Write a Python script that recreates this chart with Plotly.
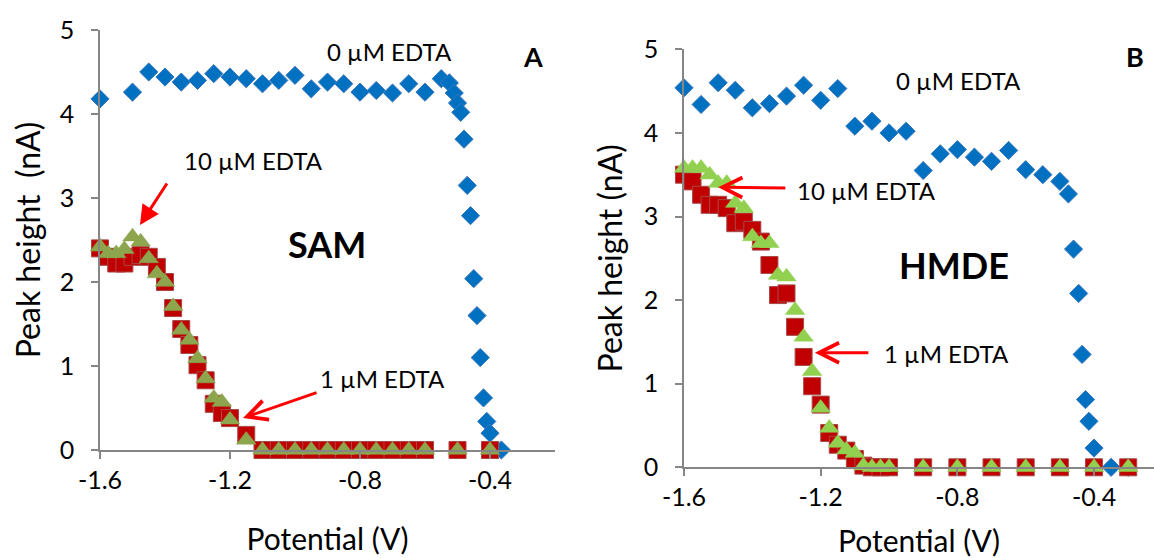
import plotly.graph_objects as go

W, H = 1154, 558

# ---------------- Panel A (SAM) ----------------
a_blue_x = [-1.6, -1.5, -1.45, -1.4, -1.35, -1.3, -1.25, -1.2, -1.15, -1.1, -1.05, -1.0,
            -0.95, -0.9, -0.85, -0.8, -0.75, -0.7, -0.65, -0.6, -0.55,
            -0.525, -0.51, -0.5, -0.49, -0.48, -0.47, -0.46, -0.45, -0.44, -0.43,
            -0.42, -0.41, -0.4, -0.365]
a_blue_y = [4.18, 4.26, 4.50, 4.44, 4.38, 4.40, 4.48, 4.44, 4.42, 4.36, 4.40, 4.46,
            4.30, 4.38, 4.36, 4.26, 4.28, 4.25, 4.36, 4.26, 4.42,
            4.37, 4.25, 4.13, 4.02, 3.70, 3.15, 2.79, 2.04, 1.60, 1.10,
            0.62, 0.34, 0.20, 0.0]

a_x = [-1.6, -1.575, -1.55, -1.525, -1.5, -1.475, -1.45, -1.425, -1.4, -1.375, -1.35,
       -1.325, -1.3, -1.275, -1.25, -1.225, -1.2, -1.15,
       -1.1, -1.05, -1.0, -0.95, -0.9, -0.85, -0.8, -0.75, -0.7, -0.65, -0.6, -0.5, -0.4]
a_1uM = [2.40, 2.30, 2.22, 2.22, 2.30, 2.32, 2.30, 2.18, 2.00, 1.69, 1.44,
         1.25, 1.01, 0.83, 0.55, 0.44, 0.38, 0.18,
         0, 0, 0, 0, 0, 0, 0, 0, 0, 0, 0, 0, 0]
a_10uM = [2.42, 2.34, 2.34, 2.39, 2.54, 2.48, 2.28, 2.10, 2.00, 1.71, 1.43,
          1.31, 1.09, 0.85, 0.62, 0.57, 0.36, 0.12,
          0, 0, 0, 0, 0, 0, 0, 0, 0, 0, 0, 0, 0]

# ---------------- Panel B (HMDE) ----------------
b_blue_x = [-1.6, -1.55, -1.5, -1.45, -1.4, -1.35, -1.3, -1.25, -1.2, -1.15, -1.1, -1.05,
            -1.0, -0.95, -0.9, -0.85, -0.8, -0.75, -0.7, -0.65, -0.6, -0.55, -0.5,
            -0.475, -0.46, -0.445, -0.435, -0.425, -0.415, -0.4, -0.35, -0.3]
b_blue_y = [4.54, 4.34, 4.60, 4.51, 4.30, 4.35, 4.44, 4.57, 4.39, 4.53, 4.08, 4.14,
            4.00, 4.02, 3.55, 3.75, 3.80, 3.71, 3.66, 3.79, 3.56, 3.50, 3.42,
            3.27, 2.61, 2.08, 1.35, 0.81, 0.55, 0.23, 0.0, 0.0]

b_x = [-1.6, -1.575, -1.55, -1.525, -1.5, -1.475, -1.45, -1.425, -1.4, -1.375, -1.35,
       -1.325, -1.3, -1.275, -1.25, -1.225, -1.2, -1.175, -1.15, -1.125, -1.1,
       -1.075, -1.05, -1.025, -1.0, -0.9, -0.8, -0.7, -0.6, -0.5, -0.4, -0.3]
b_1uM = [3.50, 3.42, 3.26, 3.14, 3.14, 3.10, 2.92, 2.94, 2.84, 2.70, 2.42,
         2.06, 2.08, 1.68, 1.32, 0.97, 0.75, 0.41, 0.27, 0.20, 0.10,
         0.02, 0, 0, 0, 0, 0, 0, 0, 0, 0, 0]
b_10uM = [3.58, 3.58, 3.58, 3.50, 3.40, 3.40, 3.16, 3.10, 2.76, 2.68, 2.68,
          2.30, 2.28, 1.88, 1.56, 1.15, 0.71, 0.47, 0.29, 0.21, 0.17,
          0.02, 0, 0, 0, 0, 0, 0, 0, 0, 0, 0]

x_ticks = [-1.6, -1.2, -0.8, -0.4]
x_tick_text = ["-1.6", "-1.2", "-0.8", "-0.4"]
y_ticks = [0, 1, 2, 3, 4, 5]

FONT = "Lato"
BLUE = "#0070C0"
RED = "#C00000"
GREEN_A = "#8DA64E"
GREEN_B = "#92D050"


def px(x, y):
    return x / W, 1 - y / H


fig = go.Figure()

def add_panel(xa, ya, bx, by, sx, s1, s10, green):
    fig.add_trace(go.Scatter(x=bx, y=by, mode="markers", xaxis=xa, yaxis=ya, cliponaxis=False,
                             marker=dict(symbol="diamond", size=14, color=BLUE,
                                         line=dict(color="#3C78BE", width=1)),
                             name="0 µM EDTA", showlegend=False))
    fig.add_trace(go.Scatter(x=sx, y=s1, mode="markers", xaxis=xa, yaxis=ya, cliponaxis=False,
                             marker=dict(symbol="square", size=17, color=RED,
                                         line=dict(color="#A84848", width=1)),
                             name="1 µM EDTA", showlegend=False))
    fig.add_trace(go.Scatter(x=sx, y=s10, mode="markers", xaxis=xa, yaxis=ya, cliponaxis=False,
                             marker=dict(symbol="triangle-up", size=17, color=green,
                                         line=dict(color=green, width=0.5)),
                             name="10 µM EDTA", showlegend=False))

add_panel("x", "y", a_blue_x, a_blue_y, a_x, a_1uM, a_10uM, GREEN_A)
add_panel("x2", "y2", b_blue_x, b_blue_y, b_x, b_1uM, b_10uM, GREEN_B)

axis_common = dict(showgrid=False, zeroline=False, showline=True, linecolor="#868686",
                   linewidth=1.5, ticks="outside", tickcolor="#868686", ticklen=7,
                   tickwidth=1.5, automargin=False,
                   tickfont=dict(family=FONT, size=25, color="#000"))
xtitle_font = dict(family=FONT, size=30, color="#000")
ytitle_font = dict(family=FONT, size=32, color="#000")

fig.update_layout(
    width=W, height=H, margin=dict(l=0, r=0, t=0, b=0),
    paper_bgcolor="white", plot_bgcolor="white", showlegend=False,
    xaxis=dict(domain=[100 / W, 555 / W], range=[-1.6, -0.2], tickvals=x_ticks,
               ticktext=x_tick_text, anchor="y",
               title=dict(text="Potential (V)", standoff=36, font=xtitle_font), **axis_common),
    yaxis=dict(domain=[1 - 450 / H, 1 - 30 / H], range=[0, 5], tickvals=y_ticks, anchor="x",
               ticklabelstandoff=12,
               title=dict(text="Peak height  (nA)", standoff=10, font=ytitle_font), **axis_common),
    xaxis2=dict(domain=[684 / W, 1.0], range=[-1.6, -1.6 + (W - 684) / 341.7], tickvals=x_ticks,
                ticktext=x_tick_text, anchor="y2",
                title=dict(text="Potential (V)", standoff=24, font=xtitle_font), **axis_common),
    yaxis2=dict(domain=[1 - 467.3 / H, 1 - 49.3 / H], range=[0, 5], tickvals=y_ticks,
                anchor="x2", ticklabelstandoff=12,
                title=dict(text="Peak height (nA)", standoff=12, font=ytitle_font), **axis_common),
)

def text(xp, yp, s, size=20, bold=False):
    x, y = px(xp, yp)
    fig.add_annotation(x=x, y=y, xref="paper", yref="paper", text=f"<b>{s}</b>" if bold else s,
                       showarrow=False, font=dict(family=FONT, size=size, color="#000"),
                       xanchor="center", yanchor="middle")

def arrow(xr, yr, tip, tail, head):
    fig.add_annotation(x=tip[0], y=tip[1], xref=xr, yref=yr, ax=tail[0], ay=tail[1],
                       axref=xr, ayref=yr, text="", showarrow=True, arrowhead=head,
                       arrowsize=1.3, arrowwidth=3, arrowcolor="#FF0000", standoff=0)

# Panel A texts
text(389, 52, "0 µM EDTA", 24)
text(533, 56, "A", 27, True)
text(253, 160, "10 µM EDTA", 24)
text(327, 244, "SAM", 36, True)
text(383, 378, "1 µM EDTA", 24)
arrow("x", "y", (-1.477, 2.68), (-1.391, 3.19), 2)
arrow("x", "y", (-1.16, 0.38), (-0.929, 0.69), 5)

# Panel B texts
text(958, 80, "0 µM EDTA", 24)
text(1135, 56, "B", 27, True)
text(866, 190, "10 µM EDTA", 24)
text(954, 265, "HMDE", 36, True)
text(946, 353, "1 µM EDTA", 24)
arrow("x2", "y2", (-1.50, 3.35), (-1.299, 3.34), 5)
arrow("x2", "y2", (-1.217, 1.37), (-1.056, 1.37), 5)

fig.write_html("out.html")
